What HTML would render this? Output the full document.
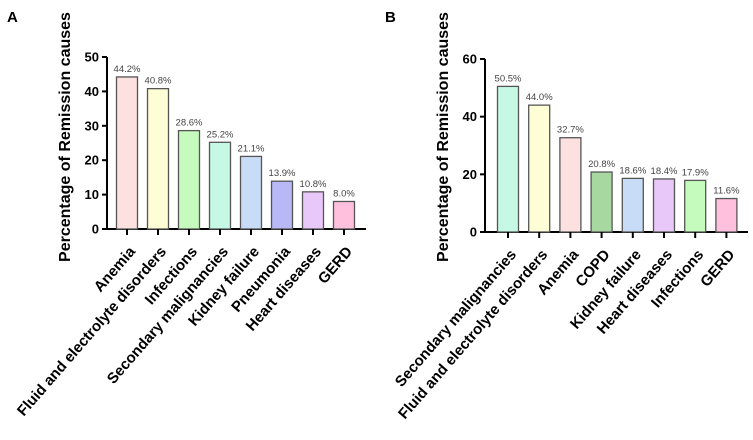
<!DOCTYPE html>
<html><head><meta charset="utf-8"><style>
body{margin:0;background:#fff}
svg{display:block;font-family:"Liberation Sans",Arial,sans-serif}
</style></head><body>
<svg id="s" width="753" height="440"></svg>
<script>
const catsA=["Anemia","Fluid and electrolyte disorders","Infections","Secondary malignancies","Kidney failure","Pneumonia","Heart diseases","GERD"];
const valsA=[44.2,40.8,28.6,25.2,21.1,13.9,10.8,8.0];
const ticksA=[0,10,20,30,40,50];
const colsA=["#fde0e0","#fefed6","#c6fbbe","#c6f8e6","#c8dcf8","#b8b8f6","#e8c8f8","#ffc0de"];
const catsB=["Secondary malignancies","Fluid and electrolyte disorders","Anemia","COPD","Kidney failure","Heart diseases","Infections","GERD"];
const valsB=[50.5,44.0,32.7,20.8,18.6,18.4,17.9,11.6];
const ticksB=[0,20,40,60];
const colsB=["#c6f8e6","#fefed6","#fde0e0","#a6d8a0","#c8dcf8","#e8c8f8","#c6fbbe","#ffc0de"];
const NS="http://www.w3.org/2000/svg",svg=document.getElementById("s");
function mk(t,a,p){const e=document.createElementNS(NS,t);for(const k in a)e.setAttribute(k,a[k]);(p||svg).appendChild(e);return e;}
function panel(id,letter,ax,y0,ymaxPx,ymax,cats,vals,ticks,cols,x0,step,axEnd){
  const g=mk("g",{});
  
  
  const y=v=>y0-(v/ymax)*(y0-ymaxPx);
  const x=i=>x0+i*step;
  const L=mk("text",{x:ax-100,y:22,"font-size":15,"font-weight":"bold"},g);L.textContent=letter;
  
  
  const T=mk("text",{transform:`translate(${ax-37},137) rotate(-90)`,"text-anchor":"middle","font-size":16,"font-weight":"bold"},g);
  T.textContent="Percentage of Remission causes";
  
  
  mk("line",{x1:ax,x2:ax,y1:y(ticks[ticks.length-1]),y2:y0+1,stroke:"#000","stroke-width":2},g);
  mk("line",{x1:ax-1,x2:axEnd,y1:y0,y2:y0,stroke:"#000","stroke-width":2},g);
  ticks.forEach(t=>{
    mk("line",{x1:ax-5,x2:ax,y1:y(t),y2:y(t),stroke:"#000","stroke-width":2},g);
    const tt=mk("text",{x:ax-8,y:y(t)+4.5,"text-anchor":"end","font-size":13,"font-weight":"bold"},g);tt.textContent=t;
    
    
  });
  vals.forEach((v,i)=>{
    const b=mk("rect",{x:x(i)-10.5,y:y(v),width:21,height:y0-y(v),fill:cols[i],stroke:"#555","stroke-width":1.3},g);
    
    
    const vt=mk("text",{x:x(i),y:y(v)-5,"text-anchor":"middle","font-size":9.5,fill:"#444"},g);vt.textContent=v.toFixed(1)+"%";
    
    
    mk("line",{x1:x(i),x2:x(i),y1:y0,y2:y0+6,stroke:"#000","stroke-width":2},g);
    const ct=mk("text",{transform:`translate(${x(i)+9},${y0+23}) rotate(-49)`,"text-anchor":"end","font-size":15,"font-weight":"bold"},g);
    ct.textContent=cats[i];
    
    
  });
}
panel("a","A",107,229,57,50,catsA,valsA,ticksA,colsA,127,31,366);
panel("b","B",485,232,59,60,catsB,valsB,ticksB,colsB,508,31.2,748);
</script>
</body></html>
